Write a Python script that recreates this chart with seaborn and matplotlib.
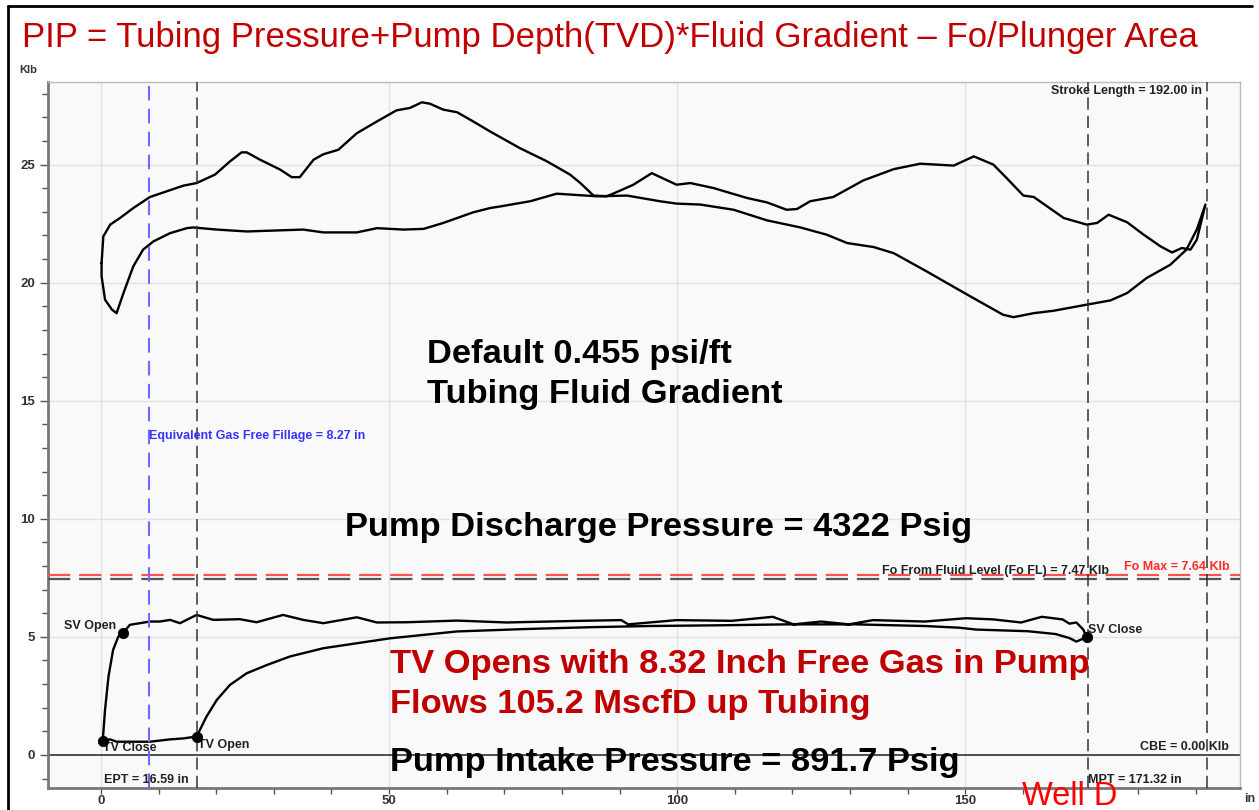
import numpy as np
import pandas as pd
import seaborn as sns
import matplotlib.pyplot as plt
from matplotlib.lines import Line2D
from matplotlib.ticker import MultipleLocator

# surface card (position in, load Klb), one closed loop
surf_x = [0.1, 0.4, 1.6, 3.3, 5.6, 8.5, 11.4, 14.3, 16.6, 19.8, 22.4, 24.4, 25.3, 27.6, 31.1,
          33.1, 34.5, 36.9, 38.6, 41.2, 44.4, 47.9, 51.3, 53.6, 55.7, 57.1, 59.4, 61.8, 64.6, 67.5,
          72.7, 77.4, 81.4, 83.2, 85.5, 87.8, 90.1, 92.4, 95.6, 99.9, 102.3, 106.3, 112.1, 115.6, 119.0,
          120.8, 123.1, 127.1, 132.3, 137.6, 142.2, 148.0, 151.5, 154.9, 157.2, 160.1, 161.9, 167.1, 171.1,
          172.9, 174.9, 178.1, 181.0, 183.9, 185.9, 187.6, 189.1, 190.2, 191.7,
          190.2, 188.4, 185.6, 181.5, 178.1, 175.2, 171.1, 165.3, 161.9, 158.4, 156.6, 150.9, 143.3, 137.6,
          134.1, 129.5, 126.0, 121.4, 115.6, 109.8, 104.0, 99.9, 97.0, 91.3, 86.1, 79.1, 74.5, 69.3, 67.5,
          64.6, 59.4, 56.0, 52.5, 47.9, 44.4, 38.6, 35.1, 25.3, 20.1, 16.0, 14.9, 12.0, 9.1, 7.3, 5.6,
          3.9, 2.7, 1.9, 0.7, 0.1, 0.1]
surf_y = [20.83, 21.96, 22.46, 22.74, 23.16, 23.63, 23.87, 24.11, 24.22, 24.58, 25.14, 25.52, 25.52, 25.21, 24.79,
          24.47, 24.47, 25.21, 25.44, 25.63, 26.33, 26.83, 27.30, 27.40, 27.64, 27.58, 27.33, 27.22, 26.83, 26.41,
          25.70, 25.14, 24.58, 24.22, 23.69, 23.66, 23.90, 24.15, 24.64, 24.15, 24.22, 24.01, 23.59, 23.40, 23.09,
          23.12, 23.45, 23.63, 24.33, 24.81, 25.04, 24.96, 25.35, 25.00, 24.43, 23.69, 23.63, 22.74, 22.46,
          22.53, 22.88, 22.56, 22.03, 21.54, 21.28, 21.47, 21.40, 21.82, 23.31,
          22.25, 21.40, 20.76, 20.20, 19.56, 19.25, 19.07, 18.81, 18.71, 18.54, 18.64, 19.42, 20.48, 21.25,
          21.51, 21.68, 22.03, 22.34, 22.64, 23.09, 23.31, 23.35, 23.45, 23.69, 23.66, 23.77, 23.45, 23.23, 23.16,
          22.98, 22.53, 22.28, 22.25, 22.31, 22.13, 22.13, 22.25, 22.17, 22.25, 22.34, 22.31, 22.10, 21.75, 21.40, 20.69,
          19.56, 18.71, 18.86, 19.28, 20.27, 20.83]

# downhole pump card
pump_x = [0.3, 0.7, 1.3, 2.1, 3.0, 3.9, 5.0, 8.5, 10.2, 12.0, 13.7, 16.6, 19.5, 24.1, 27.0, 31.6, 35.1,
          38.6, 44.4, 47.9, 53.1, 61.8, 70.4, 83.2, 90.3, 91.5, 99.9, 109.5, 116.6, 120.2, 125.0, 129.8,
          134.0, 143.0, 150.1, 154.9, 159.7, 163.3, 166.9, 168.1, 169.3, 170.5, 171.1,
          169.3, 168.1, 165.7, 160.9, 151.9, 148.9, 143.0, 131.0, 119.0, 107.1, 95.1, 84.9, 73.3, 61.8,
          50.2, 44.4, 38.6, 32.8, 28.8, 25.3, 22.4, 20.1, 18.3, 16.6, 14.3, 12.0, 8.5, 5.0, 2.7, 1.6, 0.3]
pump_y = [0.59, 1.91, 3.32, 4.45, 5.01, 5.18, 5.51, 5.65, 5.65, 5.72, 5.58, 5.93, 5.72, 5.75, 5.62, 5.93, 5.72,
          5.58, 5.83, 5.61, 5.62, 5.69, 5.61, 5.68, 5.71, 5.53, 5.71, 5.68, 5.85, 5.53, 5.65, 5.53,
          5.71, 5.65, 5.79, 5.74, 5.61, 5.85, 5.74, 5.56, 5.61, 5.31, 4.99,
          4.80, 4.95, 5.12, 5.24, 5.31, 5.39, 5.46, 5.53, 5.53, 5.49, 5.46, 5.41, 5.33, 5.23,
          4.94, 4.73, 4.52, 4.17, 3.81, 3.46, 2.97, 2.33, 1.62, 0.78, 0.70, 0.66, 0.56, 0.56, 0.56, 0.66, 0.59]

# valve events
valve_names = ['TV Close', 'SV Open', 'TV Open', 'SV Close']
valve_x = [0.3, 3.9, 16.6, 171.1]
valve_y = [0.6, 5.18, 0.78, 4.99]

stroke_length = 192.00
ept = 16.59
mpt = 171.32
gas_free = 8.27
fo_fl = 7.47
fo_max = 7.64
cbe = 0.00

sns.set_style("white")
plt.rcParams['font.family'] = ['Liberation Sans', 'DejaVu Sans']

fig = plt.figure(figsize=(12.59, 8.10), dpi=100)
ax = fig.add_axes([48/1259, 1-788/810, (1240-48)/1259, (788-82)/810])
ax.set_facecolor('#f9f9f9')

surf = pd.DataFrame({'pos': surf_x, 'load': surf_y})
pump = pd.DataFrame({'pos': pump_x, 'load': pump_y})
sns.lineplot(data=surf, x='pos', y='load', sort=False, estimator=None, color='black', lw=1.7, ax=ax)
sns.lineplot(data=pump, x='pos', y='load', sort=False, estimator=None, color='black', lw=1.7, ax=ax)
sns.scatterplot(x=valve_x, y=valve_y, color='black', s=55, edgecolor='black', zorder=5, ax=ax)

ax.set_xlim(-9.2, 197.7)
ax.set_ylim(-1.4, 28.5)
ax.xaxis.set_major_locator(MultipleLocator(50))
ax.xaxis.set_minor_locator(MultipleLocator(10))
ax.yaxis.set_major_locator(MultipleLocator(5))
ax.yaxis.set_minor_locator(MultipleLocator(1))
ax.grid(True, which='major', color='#e2e2e2', lw=1)
ax.set_axisbelow(True)
ax.tick_params(which='both', direction='out', colors='#555', labelcolor='#333',
               labelsize=9.5, left=True, bottom=True)
ax.tick_params(which='major', length=6, width=1)
ax.tick_params(which='minor', length=4, width=1)
ax.tick_params(axis='x', which='major', length=4, pad=1)
for lab in ax.get_xticklabels() + ax.get_yticklabels():
    lab.set_fontweight('bold')
ax.set_xlabel('')
ax.set_ylabel('')
for side in ['left', 'bottom']:
    ax.spines[side].set_color('#777')
    ax.spines[side].set_linewidth(2)
for side in ['top', 'right']:
    ax.spines[side].set_color('#bbb')
    ax.spines[side].set_linewidth(1)

# reference lines
ax.axhline(cbe, color='#333', lw=1.2, zorder=2)
ax.axhline(fo_max, color='#ff5050', lw=1.6, ls=(0, (10, 4)), zorder=3)
ax.axhline(fo_fl, color='#555', lw=1.6, ls=(0, (10, 4)), zorder=3)
ax.axvline(gas_free, color='#6b6bff', lw=1.5, ls=(0, (7, 4)), zorder=3)
for xv in [ept, mpt, stroke_length]:
    ax.axvline(xv, color='#333', lw=1.1, ls=(0, (8, 4)), zorder=3)

small = dict(fontsize=9, fontweight='bold', color='#222')
ax.text(191.1, 28.1, 'Stroke Length = 192.00 in', ha='right', va='center', **small)
ax.text(8.3, 13.52, 'Equivalent Gas Free Fillage = 8.27 in', ha='left', va='center',
        fontsize=9, fontweight='bold', color='#3535ff')
ax.text(135.6, 7.52, 'Fo From Fluid Level (Fo FL) = 7.47 Klb', ha='left', va='bottom', **small)
ax.text(177.6, 7.70, 'Fo Max = 7.64 Klb', ha='left', va='bottom',
        fontsize=9, fontweight='bold', color='#ff2a2a')
ax.text(-6.4, 5.47, 'SV Open', ha='left', va='center', **small)
ax.text(0.35, 0.30, 'TV Close', ha='left', va='center', **small)
ax.text(16.8, 0.42, 'TV Open', ha='left', va='center', **small)
ax.text(171.4, 5.30, 'SV Close', ha='left', va='center', **small)
ax.text(195.7, 0.34, 'CBE = 0.00 Klb', ha='right', va='center', **small)
ax.text(0.5, -1.06, 'EPT = 16.59 in', ha='left', va='center', **small)
ax.text(171.4, -1.06, 'MPT = 171.32 in', ha='left', va='center', **small)

big = dict(fontsize=24.8, fontweight='bold', ha='left', va='center')
ax.text(56.6, 16.95, 'Default 0.455 psi/ft', color='black', **big)
ax.text(56.6, 15.25, 'Tubing Fluid Gradient', color='black', **big)
ax.text(42.4, 9.62, 'Pump Discharge Pressure = 4322 Psig', color='black', **big)
ax.text(50.2, 3.81, 'TV Opens with 8.32 Inch Free Gas in Pump', color='#c00000', **big)
ax.text(50.2, 2.12, 'Flows 105.2 MscfD up Tubing', color='#c00000', **big)
ax.text(50.2, -0.30, 'Pump Intake Pressure = 891.7 Psig', color='black', **big)
ax.text(159.9, -2.12, 'Well D', color='#ff0000', fontsize=23.5, ha='left', va='baseline', clip_on=False)

fig.text(22/1259, 1-37/810, 'PIP = Tubing Pressure+Pump Depth(TVD)*Fluid Gradient \u2013 Fo/Plunger Area',
         color='#c00000', fontsize=25, ha='left', va='center')
fig.text(28/1259, 1-70/810, 'Klb', fontsize=8, fontweight='bold', color='#333', ha='center', va='center')
fig.text(1250/1259, 1-799/810, 'in', fontsize=9, fontweight='bold', color='#333', ha='center', va='center')

# black frame of the document screenshot
fig.add_artist(Line2D([8/1259, 1252/1259], [1-6/810, 1-6/810], color='black', lw=2))
fig.add_artist(Line2D([8/1259, 8/1259], [1-6/810, 0], color='black', lw=2))

fig.savefig('out.png', dpi=100)
